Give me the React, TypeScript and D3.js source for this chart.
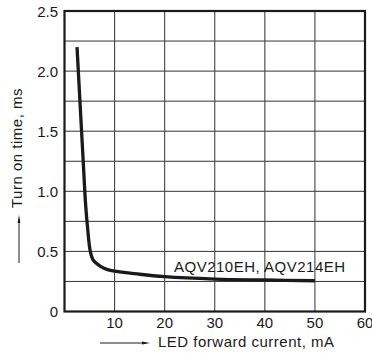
import React from "react";
import * as d3 from "d3";

// LED forward current (mA) vs. turn-on time (ms)
const currentMA = [2.5, 3.2, 3.8, 4.2, 4.6, 5.15, 5.7, 6.7, 7.9, 9.4, 15, 20, 30, 40, 50];
const turnOnMs = [2.2, 1.66, 1.2, 0.9, 0.7, 0.5, 0.43, 0.39, 0.36, 0.34, 0.31, 0.29, 0.27, 0.262, 0.256];

const xTicks = [10, 20, 30, 40, 50, 60];
const yTicks = [0, 0.5, 1.0, 1.5, 2.0, 2.5];
const xGrid = [10, 20, 30, 40, 50];
const yGrid = [0.25, 0.5, 0.75, 1.0, 1.25, 1.5, 1.75, 2.0, 2.25];

const seriesLabel = "AQV210EH, AQV214EH";
const xTitle = "LED forward current, mA";
const yTitle = "Turn on time, ms";

const W = 372;
const H = 358;
const font = "'Liberation Sans', Arial, Helvetica, sans-serif";

export default function App() {
  const x = d3.scaleLinear().domain([0, 60]).range([64.5, 365]);
  const y = d3.scaleLinear().domain([0, 2.5]).range([311.5, 11]);

  const pts: [number, number][] = currentMA.map((c, i) => [c, turnOnMs[i]]);
  const line = d3
    .line<[number, number]>()
    .x((d) => x(d[0]))
    .y((d) => y(d[1]))
    .curve(d3.curveCatmullRom.alpha(0.5));

  const textStyle = { fontFamily: font, fontSize: 15, letterSpacing: 0.5, fill: "#1a1a1a" };

  return (
    <svg
      width={W}
      height={H}
      style={{ position: "absolute", left: 0, top: 0, background: "#fff" }}
    >
      {/* grid */}
      {yGrid.map((v) => (
        <line key={"h" + v} x1={x(0)} x2={x(60)} y1={y(v)} y2={y(v)} stroke="#333" strokeWidth={1} />
      ))}
      {xGrid.map((v) => (
        <line key={"v" + v} x1={x(v)} x2={x(v)} y1={y(0)} y2={y(2.5)} stroke="#444" strokeWidth={1.1} />
      ))}

      {/* frame */}
      <rect
        x={x(0)}
        y={y(2.5)}
        width={x(60) - x(0)}
        height={y(0) - y(2.5)}
        fill="none"
        stroke="#1a1a1a"
        strokeWidth={2.2}
      />

      {/* curve */}
      <path d={line(pts) || ""} fill="none" stroke="#1a1a1a" strokeWidth={3.3} strokeLinecap="butt" />

      {/* series label */}
      <text x={174} y={272} style={textStyle}>
        {seriesLabel}
      </text>

      {/* y tick labels */}
      {yTicks.map((v) => (
        <text key={"yt" + v} x={58} y={y(v) + 5.5} textAnchor="end" style={{ ...textStyle, letterSpacing: 0 }}>
          {v === 0 ? "0" : v.toFixed(1)}
        </text>
      ))}

      {/* x tick labels */}
      {xTicks.map((v) => (
        <text key={"xt" + v} x={x(v)} y={327.5} textAnchor="middle" style={{ ...textStyle, letterSpacing: 0 }}>
          {v}
        </text>
      ))}

      {/* x title with arrow */}
      <line x1={100} x2={146} y1={343} y2={343} stroke="#1a1a1a" strokeWidth={1} />
      <path d="M142,341.6 L150,343 L142,344.4 Z" fill="#1a1a1a" />
      <text x={158} y={347} style={textStyle}>
        {xTitle}
      </text>

      {/* y title with arrow */}
      <line x1={19} x2={19} y1={263} y2={219} stroke="#1a1a1a" strokeWidth={1} />
      <path d="M17.6,223 L19,215 L20.4,223 Z" fill="#1a1a1a" />
      <text transform="translate(21.5,208) rotate(-90)" style={textStyle}>
        {yTitle}
      </text>
    </svg>
  );
}
